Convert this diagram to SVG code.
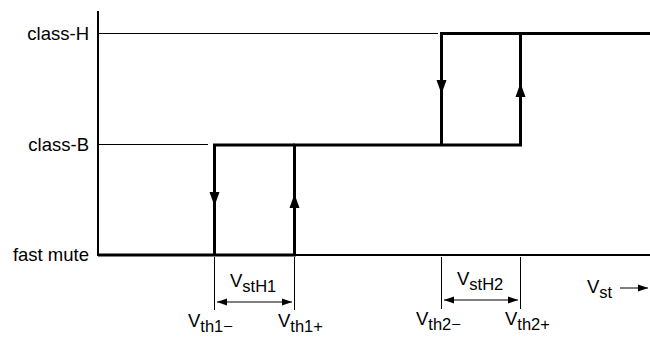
<svg xmlns="http://www.w3.org/2000/svg" width="650" height="338" viewBox="0 0 650 338">
<style>
text{font-family:"Liberation Sans",Arial,sans-serif;font-size:18.5px;fill:#000}
.sub{font-size:16.5px}
.thin{stroke:#000;stroke-width:1;fill:none}
.axis{stroke:#000;stroke-width:2;fill:none}
.thick{stroke:#000;stroke-width:3;fill:none}
</style>
<defs>
<marker id="ah" viewBox="0 0 10 10" refX="10" refY="5" markerWidth="10" markerHeight="10" markerUnits="userSpaceOnUse" orient="auto-start-reverse">
<path d="M0,1.5 L10,5 L0,8.5 Z" fill="#000"/>
</marker>
</defs>
<g id="axes">
<line class="axis" x1="98" y1="11" x2="98" y2="256"/>
<line class="axis" x1="98" y1="255" x2="650" y2="255"/>
</g>
<g id="levels">
<line class="thin" x1="98" y1="33.5" x2="438" y2="33.5"/>
<line class="thin" x1="98" y1="144.5" x2="208" y2="144.5"/>
<text x="89" y="40" text-anchor="end">class-H</text>
<text x="89" y="151" text-anchor="end">class-B</text>
<text x="89" y="261" text-anchor="end">fast mute</text>
</g>
<g id="connectors">
<polyline class="thick" points="98,255 294.5,255 294.5,145 520.5,145 520.5,33.5 650,33.5"/>
<polyline class="thick" points="214.5,255 214.5,145 294.5,145"/>
<polyline class="thick" points="441.5,145 441.5,33.5 520.5,33.5"/>
<path d="M209.5,192 L219.5,192 L214.5,206 Z" fill="#000"/>
<path d="M289.5,208 L299.5,208 L294.5,194 Z" fill="#000"/>
<path d="M436.5,80 L446.5,80 L441.5,94 Z" fill="#000"/>
<path d="M515.5,97 L525.5,97 L520.5,83 Z" fill="#000"/>
<line class="thin" x1="214.5" y1="257" x2="214.5" y2="310"/>
<line class="thin" x1="294.5" y1="257" x2="294.5" y2="310"/>
<line class="thin" x1="441.5" y1="257" x2="441.5" y2="309"/>
<line class="thin" x1="520.5" y1="257" x2="520.5" y2="309"/>
<line class="thin" x1="217" y1="302" x2="292" y2="302" marker-start="url(#ah)" marker-end="url(#ah)"/>
<line class="thin" x1="444" y1="300" x2="518" y2="300" marker-start="url(#ah)" marker-end="url(#ah)"/>
<line class="thin" x1="620" y1="288" x2="648" y2="288" marker-end="url(#ah)"/>
</g>
<g id="labels">
<text x="230" y="287">V<tspan class="sub" dy="5">stH1</tspan></text>
<text x="457" y="285">V<tspan class="sub" dy="5">stH2</tspan></text>
<text x="587" y="293">V<tspan class="sub" dy="5">st</tspan></text>
<text x="188" y="327">V<tspan class="sub" dy="5">th1−</tspan></text>
<text x="278" y="327">V<tspan class="sub" dy="5">th1+</tspan></text>
<text x="416" y="325">V<tspan class="sub" dy="5">th2−</tspan></text>
<text x="505" y="325">V<tspan class="sub" dy="5">th2+</tspan></text>
</g>
</svg>
